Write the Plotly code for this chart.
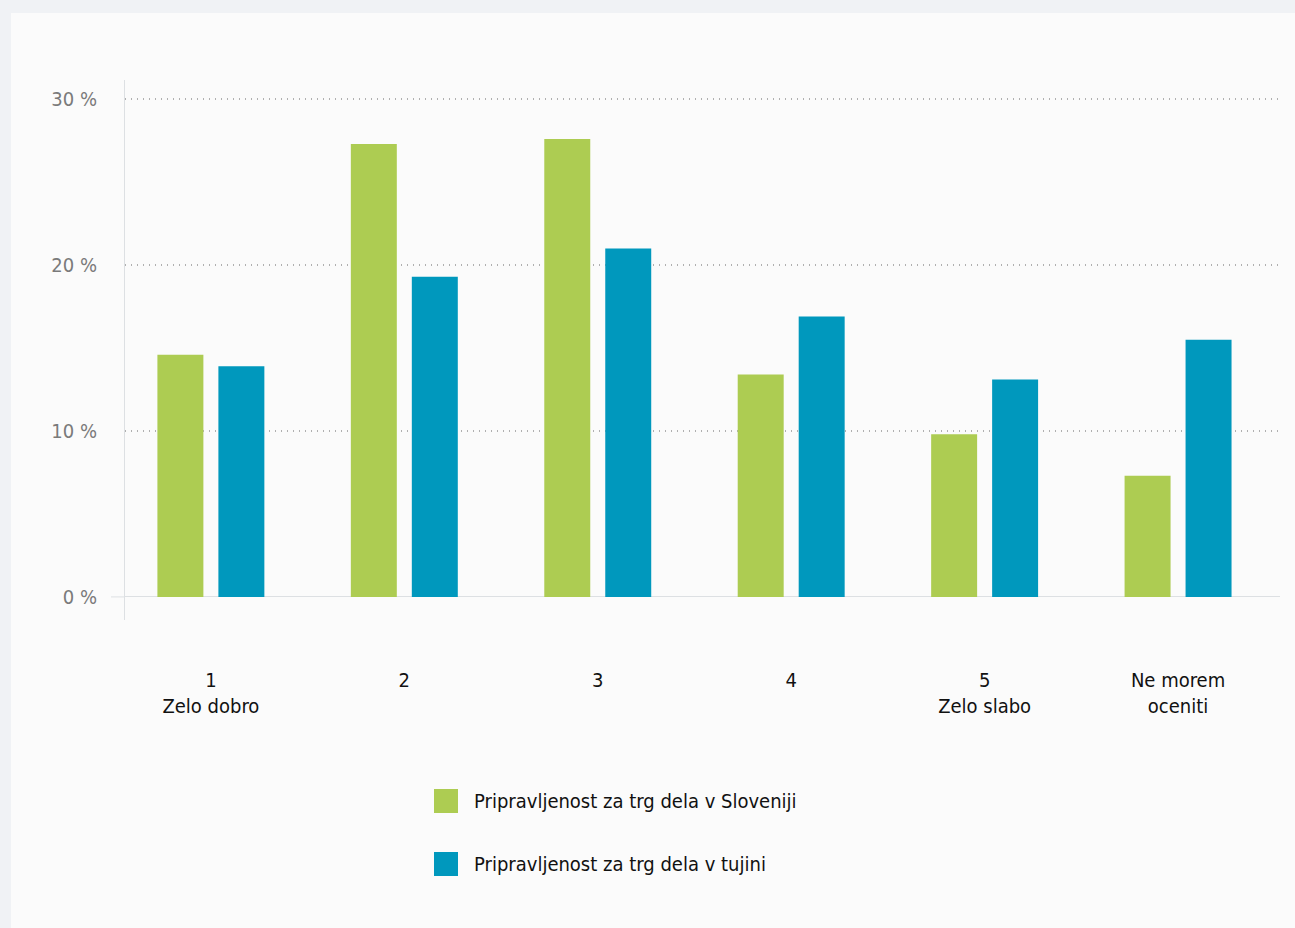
import plotly.graph_objects as go

categories = ["1<br>Zelo dobro", "2", "3", "4", "5<br>Zelo slabo", "Ne morem<br>oceniti"]
series_names = ["Pripravljenost za trg dela v Sloveniji", "Pripravljenost za trg dela v tujini"]
slovenija = [14.6, 27.3, 27.6, 13.4, 9.8, 7.3]
tujina = [13.9, 19.3, 21.0, 16.9, 13.1, 15.5]
colors = ["#adcc52", "#0098bd"]
y_ticks = [0, 10, 20, 30]
y_tick_labels = ["0 %", "10 %", "20 %", "30 %"]

W, H = 1295, 928
L, R, T, B = 125, 15, 80, 308
PW, PH = W - L - R, H - T - B


def px(x):
    return (x - L) / PW


def py(y):
    return (H - B - y) / PH


FONT = "DejaVu Sans Condensed, Liberation Sans Narrow, Arial Narrow, sans-serif"

fig = go.Figure()
for name, vals, col in zip(series_names, [slovenija, tujina], colors):
    fig.add_trace(go.Bar(x=categories, y=vals, name=name, marker=dict(color=col, line=dict(width=0)),
                         showlegend=False, hoverinfo="x+y+name"))

shapes = [
    # card background
    dict(type="rect", xref="paper", yref="paper", x0=px(11), x1=px(1300), y0=py(13), y1=py(935),
         fillcolor="#fbfbfb", line=dict(width=0), layer="below"),
    # zero line extension to the left
    dict(type="line", xref="paper", yref="y", x0=px(111), x1=0, y0=0, y1=0,
         line=dict(color="#dde0e3", width=1)),
]
annotations = []
for i, (name, col) in enumerate(zip(series_names, colors)):
    cy = 801 + i * 63
    shapes.append(dict(type="rect", xref="paper", yref="paper", x0=px(434), x1=px(458),
                       y0=py(cy - 12), y1=py(cy + 12), fillcolor=col, line=dict(width=0)))
    annotations.append(dict(xref="paper", yref="paper", x=px(472), y=py(cy), text=name,
                            showarrow=False, xanchor="left", yanchor="middle",
                            font=dict(family=FONT, size=20, color="#111111")))

fig.update_layout(
    width=W, height=H,
    margin=dict(l=L, r=R, t=T, b=B),
    paper_bgcolor="#f0f2f5",
    plot_bgcolor="rgba(0,0,0,0)",
    barmode="group",
    bargap=0.3695,
    bargroupgap=0.246,
    showlegend=False,
    shapes=shapes,
    annotations=annotations,
    font=dict(family=FONT),
)
fig.update_xaxes(
    range=[-0.444, 5.527],
    showgrid=False, showline=False, ticks="",
    tickfont=dict(family=FONT, size=20, color="#111111"),
    ticklabelstandoff=46,
)
fig.update_yaxes(
    range=[-1.39, 31.15],
    tickmode="array", tickvals=y_ticks, ticktext=y_tick_labels,
    showgrid=True, gridcolor="#b0b0b0", griddash="1px,5px", gridwidth=1.5,
    zeroline=True, zerolinecolor="#dde0e3", zerolinewidth=1,
    showline=True, linecolor="#dde0e3", linewidth=1,
    ticks="", ticklabelstandoff=23, layer="above traces",
    tickfont=dict(family=FONT, size=20, color="#7a7a7a"),
)

fig.write_html("out.html", config={"displayModeBar": False},
               post_script="document.body.style.margin='0';")
